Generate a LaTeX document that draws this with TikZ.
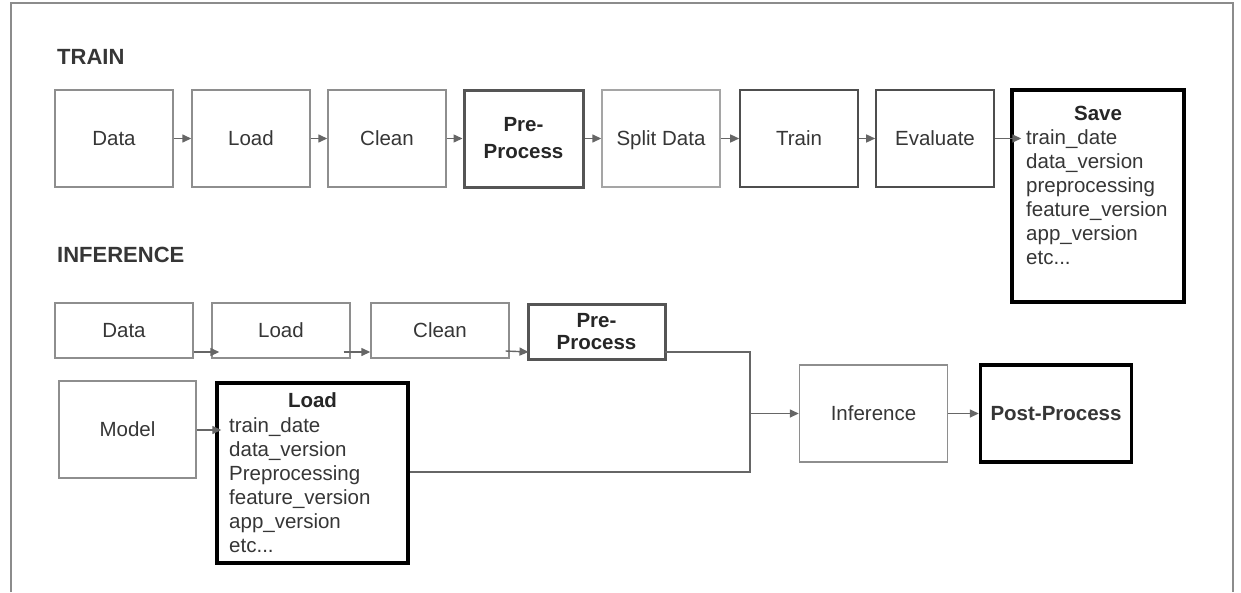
\documentclass[tikz,border=0pt]{standalone}
\usepackage{fontspec}
\setmainfont{Liberation Sans}
\usetikzlibrary{arrows.meta}

\definecolor{framegray}{HTML}{8C8C8C}
\definecolor{lightline}{HTML}{8E8E8E}
\definecolor{midline}{HTML}{4E4E4E}
\definecolor{darkline}{HTML}{555555}
\definecolor{txt}{HTML}{363636}
\definecolor{arrowgray}{HTML}{666666}

\tikzset{
  lbl/.style={font=\fontsize{20.5}{24}\selectfont, text=txt},
  oneline/.style={text height=18pt, text depth=3.5pt},
  stage/.style={draw=lightline, line width=1.4pt, fill=white, lbl, inner sep=0pt},
  stagemid/.style={stage, draw=midline, line width=1.6pt},
  stagekey/.style={stage, draw=darkline, line width=3pt},
  stagebold/.style={stage, draw=black, line width=3.4pt},
  heading/.style={font=\fontsize{22}{26}\selectfont\bfseries, text=txt, anchor=west, inner sep=0pt},
  boldlbl/.style={font=\fontsize{20.5}{27}\selectfont\bfseries, text=black!85, align=center},
  listtext/.style={font=\fontsize{20.5}{24}\selectfont, text=txt, align=left, anchor=north west, inner sep=0pt},
  conn/.style={draw=arrowgray, line width=1.4pt},
  arr/.style={conn, -{Triangle[length=9pt,width=8pt]}},
}

\begin{document}
\begin{tikzpicture}[x=1pt, y=-1pt]
\useasboundingbox (0,0) rectangle (1241,592);

% outer frame, open at the bottom
\draw[framegray, line width=1.6pt] (11,592) -- (11,3) -- (1233,3) -- (1233,592);

% ---------- TRAIN ----------
\node[heading] (trainhead) at (57,57) {TRAIN};

\node[stage, oneline, minimum width=118pt, minimum height=97pt] (tdata) at (114,138.5) {Data};
\node[stage, oneline, minimum width=118pt, minimum height=97pt] (tload) at (251,138.5) {Load};
\node[stage, oneline, minimum width=118pt, minimum height=97pt] (tclean) at (387,138.5) {Clean};
\node[stagekey, minimum width=119pt, minimum height=97pt, boldlbl] (tpre) at (523.5,138.5) {Pre-\\Process};
\node[stage, oneline, minimum width=118pt, minimum height=97pt, draw=lightline!80] (tsplit) at (661,138.5) {Split Data};
\node[stagemid, oneline, minimum width=118pt, minimum height=97pt] (ttrain) at (799,138.5) {Train};
\node[stagemid, oneline, minimum width=118pt, minimum height=97pt] (teval) at (935,138.5) {Evaluate};
\node[stagebold, minimum width=172pt, minimum height=212pt] (tsave) at (1098,196) {};
\node[boldlbl, inner sep=0pt] (tsavehead) at (1098,113) {Save};
\node[listtext] (tsavelist) at (1026,129) {train\_date\\data\_version\\preprocessing\\feature\_version\\app\_version\\etc...};

\draw[arr] (tdata.east) -- (tload.west);
\draw[arr] (tload.east) -- (tclean.west);
\draw[arr] (tclean.east) -- (tpre.west);
\draw[arr] (tpre.east) -- (tsplit.west);
\draw[arr] (tsplit.east) -- (ttrain.west);
\draw[arr] (ttrain.east) -- (teval.west);
\draw[arr] (teval.east) -- ([xshift=11pt]tsave.west |- teval.east);

% ---------- INFERENCE ----------
\node[heading] (infhead) at (57,255) {INFERENCE};

\node[stage, oneline, minimum width=138pt, minimum height=55pt] (idata) at (124,330.5) {Data};
\node[stage, oneline, minimum width=138pt, minimum height=55pt] (iload) at (281,330.5) {Load};
\node[stage, oneline, minimum width=138pt, minimum height=55pt] (iclean) at (440,330.5) {Clean};
\node[stagekey, minimum width=137pt, minimum height=55pt, boldlbl, font=\fontsize{20.5}{22}\selectfont\bfseries] (ipre) at (596.5,331.5) {Pre-\\Process};

\draw[arr] ([yshift=-21.5pt]idata.east) -- ([yshift=-21.5pt, xshift=8pt]iload.west);
\draw[arr] ([yshift=-21.5pt, xshift=-7pt]iload.east) -- ([yshift=-21.5pt]iclean.west);
\draw[arr] ([yshift=-20.5pt, xshift=-4pt]iclean.east) -- ([yshift=-20.5pt, xshift=2pt]ipre.west);

\node[stage, oneline, minimum width=137pt, minimum height=97pt] (imodel) at (127.5,429.5) {Model};
\node[stagebold, minimum width=191pt, minimum height=180pt] (imodelload) at (312.5,473) {};
\node[boldlbl, inner sep=0pt] (imodelloadhead) at (312.5,400) {Load};
\node[listtext] (imodelloadlist) at (229,417) {train\_date\\data\_version\\Preprocessing\\feature\_version\\app\_version\\etc...};

\draw[arr] (imodel.east |- 0,430) -- ([xshift=6pt]imodelload.west |- 0,430);

\node[stage, oneline, minimum width=148pt, minimum height=97pt] (iinfer) at (873.5,413.5) {Inference};
\node[stagebold, oneline, minimum width=151pt, minimum height=97pt, font=\fontsize{20.5}{24}\selectfont\bfseries, text=txt] (ipost) at (1056,413.5) {Post-Process};

% merge of the pre-processed data and the loaded model
\coordinate (mergetop) at (750,352);
\coordinate (mergebot) at (750,472);
\coordinate (merge) at (750,413.5);
\draw[conn] ([yshift=-20.5pt, xshift=-2pt]ipre.east) -- (mergetop) -- (mergebot) -- (imodelload.east |- mergebot);
\draw[arr] (merge) -- (iinfer.west);
\draw[arr] (iinfer.east) -- (ipost.west);

\end{tikzpicture}
\end{document}
